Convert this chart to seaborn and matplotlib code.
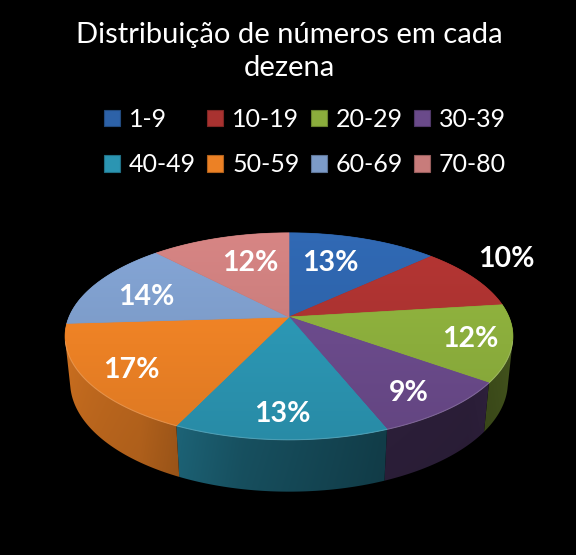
import numpy as np
import matplotlib
matplotlib.use("Agg")
import matplotlib.pyplot as plt
import seaborn as sns
from matplotlib.patches import Polygon, Patch

# ---- data ----
categories = ["1-9", "10-19", "20-29", "30-39", "40-49", "50-59", "60-69", "70-80"]
percentages = [13, 10, 12, 9, 13, 17, 14, 12]
colors = ["#2D62A8", "#A93230", "#8BAD3C", "#6A4A8A", "#2B95B2", "#EC8125", "#7C9BC8", "#C87C7B"]
title_lines = ["Distribuição de números em cada", "dezena"]

sns.set_theme(style="white")
plt.rcParams['font.family'] = ['Lato', 'DejaVu Sans']

fig = plt.figure(figsize=(5.76, 5.55), dpi=100, facecolor='black')
ax = fig.add_axes([0, 0, 1, 1])
ax.set_facecolor('black')
ax.set_xlim(0, 576)
ax.set_ylim(555, 0)
ax.axis('off')

# ---- 3D perspective projection (pixel space) ----
elev = np.radians(27)
Dcam = 4.77
S = 220
CX, CY = 289, 317
H = 0.235
ce, se = np.cos(elev), np.sin(elev)


def proj(X, Y, Z):
    d = Dcam - (-Y * ce + Z * se)
    u = X * Dcam / d
    w = (Y * se + Z * ce) * Dcam / d
    return CX + S * u, CY - S * w


def shade(c, f):
    r, g, b = matplotlib.colors.to_rgb(c)
    return (min(1, r * f), min(1, g * f), min(1, b * f))


vals = np.array(percentages, dtype=float)
fr = vals / vals.sum()
starts = 90 - 360 * np.concatenate([[0], np.cumsum(fr)[:-1]])
ends = starts - 360 * fr

# ---- side walls: smooth shaded gradient clipped to each slice's visible wall ----
a_sil = np.degrees(np.arcsin(-1 / (Dcam * ce)))
front_lo, front_hi = -180 - a_sil, a_sil
fa = np.linspace(front_lo, front_hi, 800)
fx, _ = proj(np.cos(np.radians(fa)), np.sin(np.radians(fa)), 0 * fa)
xs = np.arange(40, 540) + 0.5
a_col = np.interp(xs, fx, fa)
light_a = [-185, -170, -125, -100, -70, -45, -10]
light_f = [0.92, 0.90, 0.80, 0.58, 0.44, 0.42, 0.52]
fac = np.interp(a_col, light_a, light_f)
vgrad = np.linspace(1.0, 0.9, 60)
for i in range(len(vals)):
    lo, hi = max(ends[i], front_lo), min(starts[i], front_hi)
    if lo >= hi:
        continue
    ang = np.radians(np.linspace(lo, hi, 120))
    tx, ty = proj(np.cos(ang), np.sin(ang), 0 * ang)
    bx, by = proj(np.cos(ang), np.sin(ang), -H + 0 * ang)
    pts = np.column_stack([np.concatenate([tx, bx[::-1]]), np.concatenate([ty, by[::-1]])])
    rgb = np.array(matplotlib.colors.to_rgb(colors[i]))
    img = np.clip(vgrad[:, None, None] * fac[None, :, None] * rgb[None, None, :], 0, 1)
    im = ax.imshow(img, extent=(40, 540, 500, 300), aspect='auto', zorder=1,
                   interpolation='bilinear')
    clip = Polygon(pts, closed=True, transform=ax.transData, facecolor='none',
                   edgecolor='none')
    ax.add_patch(clip)
    im.set_clip_path(clip)

# ---- top faces with gentle vertical gradient ----
ytop, ybot = 228, 445
grad = np.linspace(1.08, 0.93, 200)[:, None]
for i in range(len(vals)):
    ang = np.radians(np.linspace(starts[i], ends[i], 120))
    X = np.concatenate([[0], np.cos(ang)])
    Y = np.concatenate([[0], np.sin(ang)])
    px, py = proj(X, Y, np.zeros_like(X))
    poly = Polygon(np.column_stack([px, py]), closed=True, facecolor=colors[i],
                   edgecolor=colors[i], lw=0.5, zorder=2)
    ax.add_patch(poly)
    rgb = np.array(matplotlib.colors.to_rgb(colors[i]))
    img = np.clip(grad[:, :, None] * rgb[None, None, :], 0, 1)
    img = np.repeat(img, 2, axis=1)
    im = ax.imshow(img, extent=(55, 525, ybot, ytop), aspect='auto', zorder=2,
                   interpolation='bilinear')
    clip = Polygon(np.column_stack([px, py]), closed=True, transform=ax.transData,
                   facecolor='none', edgecolor='none')
    ax.add_patch(clip)
    im.set_clip_path(clip)

# thin highlight along the front rim
ang = np.radians(np.linspace(front_lo, front_hi, 300))
px, py = proj(np.cos(ang), np.sin(ang), np.zeros_like(ang))
ax.plot(px, py, color='white', alpha=0.18, lw=0.8, zorder=3)

# ---- percentage labels (Excel "best fit" placement) ----
label_r = [0.685, 1.32, 0.815, 0.796, 0.794, 0.793, 0.726, 0.682]
label_da = [5.6, 7.1, 2.1, -0.7, 0.0, 0.0, 1.4, -4.6]
for i in range(len(vals)):
    mid = np.radians(0.5 * (starts[i] + ends[i]) + label_da[i])
    r = label_r[i]
    lx, ly = proj(r * np.cos(mid), r * np.sin(mid), 0.0)
    ax.text(lx, ly + 4, f"{percentages[i]:.0f}%", color='white', fontsize=20.5,
            fontweight='bold', ha='center', va='center', zorder=5)

# ---- title ----
ax.text(289, 43.5, title_lines[0], color='white', fontsize=21, ha='center',
        va='baseline', zorder=5)
ax.text(289, 75.5, title_lines[1], color='white', fontsize=21, ha='center',
        va='baseline', zorder=5)

# ---- legend (row-wise order like the original) ----
order = [0, 4, 1, 5, 2, 6, 3, 7]
handles = [Patch(facecolor=colors[j], edgecolor=shade(colors[j], 0.75), lw=0.8) for j in order]
labels = [categories[j] for j in order]
leg = ax.legend(handles, labels, ncol=4, loc='upper left',
                bbox_to_anchor=(104 / 576, 1 - 108 / 555), frameon=False,
                fontsize=18, labelcolor='white', handlelength=0.64, handleheight=0.64,
                handletextpad=0.36, columnspacing=0.44, labelspacing=0.9,
                borderaxespad=0, borderpad=0)

fig.savefig("out.png", dpi=100, facecolor='black')
